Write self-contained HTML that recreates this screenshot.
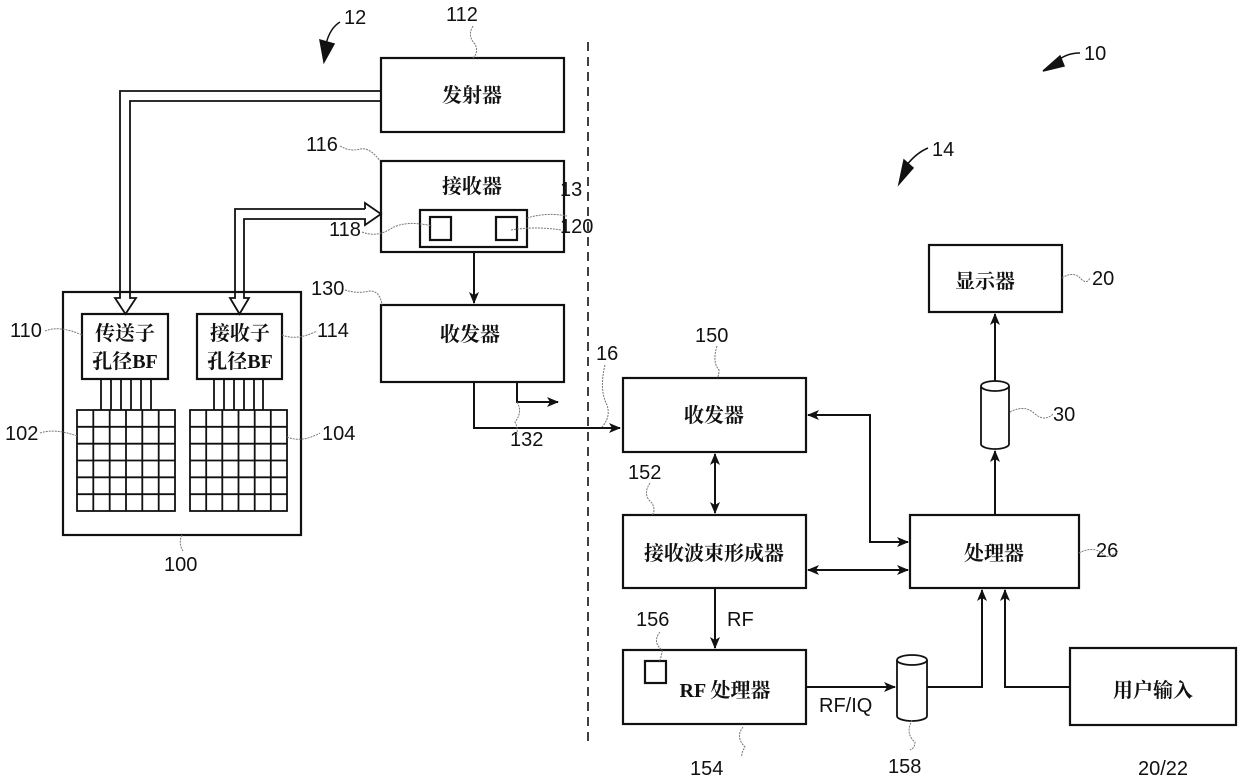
<!DOCTYPE html>
<html><head><meta charset="utf-8"><style>
html,body{margin:0;padding:0;background:#fff}
svg{display:block}
.c{font-family:"Liberation Serif","Noto Serif CJK SC",serif;font-weight:bold;font-size:20px;fill:#111}
.n{font-family:"Liberation Sans",sans-serif;font-size:20px;fill:#111}
.b{fill:#fff;stroke:#111;stroke-width:2.2}
.l{fill:none;stroke:#111;stroke-width:2}
.t{fill:none;stroke:#777;stroke-width:1;stroke-dasharray:2 1}
</style></head><body>
<svg width="1240" height="783" viewBox="0 0 1240 783" xmlns="http://www.w3.org/2000/svg">
<defs>
<marker id="a" markerWidth="12" markerHeight="12" refX="11" refY="6" orient="auto" markerUnits="userSpaceOnUse"><path d="M0,1 L12,6 L0,11 L3,6 Z" fill="#111"/></marker>
<marker id="s" markerWidth="12" markerHeight="12" refX="1" refY="6" orient="auto" markerUnits="userSpaceOnUse"><path d="M12,1 L0,6 L12,11 L9,6 Z" fill="#111"/></marker>
</defs>
<line x1="588" y1="42" x2="588" y2="745" stroke="#111" stroke-width="1.6" stroke-dasharray="9 6"/>

<rect class="b" x="381" y="58" width="183" height="74"/>
<text class="c" x="472" y="102" text-anchor="middle">发射器</text>
<rect class="b" x="381" y="161" width="183" height="91"/>
<text class="c" x="472" y="193" text-anchor="middle">接收器</text>
<rect class="b" x="420" y="210" width="107" height="37"/>
<rect class="b" x="430" y="217" width="21" height="23"/>
<rect class="b" x="496" y="217" width="21" height="23"/>
<rect class="b" x="381" y="305" width="183" height="77"/>
<text class="c" x="470" y="341" text-anchor="middle">收发器</text>
<line class="l" x1="474" y1="252" x2="474" y2="303" marker-end="url(#a)"/>
<polyline class="l" points="474,382 474,428 620,428" marker-end="url(#a)"/>
<polyline class="l" points="517,382 517,402 558,402" marker-end="url(#a)"/>

<rect class="b" x="63" y="292" width="238" height="243"/>
<rect class="b" x="82" y="314" width="86" height="65"/>
<text class="c" x="125" y="340" text-anchor="middle">传送子</text>
<text class="c" x="125" y="368" text-anchor="middle">孔径BF</text>
<rect class="b" x="197" y="314" width="85" height="65"/>
<text class="c" x="240" y="340" text-anchor="middle">接收子</text>
<text class="c" x="240" y="368" text-anchor="middle">孔径BF</text>
<g stroke="#111" stroke-width="1.8">
<line x1="101" y1="379" x2="101" y2="410"/><line x1="111" y1="379" x2="111" y2="410"/><line x1="121" y1="379" x2="121" y2="410"/><line x1="131" y1="379" x2="131" y2="410"/><line x1="141" y1="379" x2="141" y2="410"/><line x1="151" y1="379" x2="151" y2="410"/>
<line x1="214" y1="379" x2="214" y2="410"/><line x1="224" y1="379" x2="224" y2="410"/><line x1="234" y1="379" x2="234" y2="410"/><line x1="244" y1="379" x2="244" y2="410"/><line x1="254" y1="379" x2="254" y2="410"/><line x1="263" y1="379" x2="263" y2="410"/>
</g>
<g stroke="#111" stroke-width="1.8" fill="#fff">
<rect x="77" y="410" width="98" height="101"/>
<path d="M93.3,410V511M109.7,410V511M126,410V511M142.3,410V511M158.7,410V511M77,426.8H175M77,443.7H175M77,460.5H175M77,477.3H175M77,494.2H175"/>
<rect x="190" y="410" width="97" height="101"/>
<path d="M206.2,410V511M222.3,410V511M238.5,410V511M254.7,410V511M270.8,410V511M190,426.8H287M190,443.7H287M190,460.5H287M190,477.3H287M190,494.2H287"/>
</g>
<g fill="none" stroke="#111" stroke-width="1.8">
<polyline points="381,91 120,91 120,298 115,298 125.5,314 136,298 130,298 130,101 381,101"/>
<polyline points="365,209 235,209 235,298 230,298 239.5,314 249,298 244,298 244,219 365,219 365,225 381,214 365,203 365,209"/>
</g>

<rect class="b" x="623" y="378" width="183" height="74"/>
<text class="c" x="714" y="422" text-anchor="middle">收发器</text>
<rect class="b" x="623" y="515" width="183" height="73"/>
<text class="c" x="714" y="560" text-anchor="middle">接收波束形成器</text>
<rect class="b" x="623" y="650" width="183" height="74"/>
<rect class="b" x="645" y="661" width="21" height="22"/>
<text class="c" x="725" y="697" text-anchor="middle">RF 处理器</text>
<rect class="b" x="910" y="515" width="169" height="73"/>
<text class="c" x="994" y="560" text-anchor="middle">处理器</text>
<rect class="b" x="929" y="245" width="133" height="67"/>
<text class="c" x="985" y="288" text-anchor="middle">显示器</text>
<rect class="b" x="1070" y="648" width="166" height="77"/>
<text class="c" x="1153" y="697" text-anchor="middle">用户输入</text>

<line class="l" x1="715" y1="454" x2="715" y2="513" marker-start="url(#s)" marker-end="url(#a)"/>
<line class="l" x1="715" y1="588" x2="715" y2="648" marker-end="url(#a)"/>
<text class="n" x="727" y="626">RF</text>
<polyline class="l" points="808,415 870,415 870,542 908,542" marker-start="url(#s)" marker-end="url(#a)"/>
<line class="l" x1="808" y1="570" x2="908" y2="570" marker-start="url(#s)" marker-end="url(#a)"/>
<line class="l" x1="806" y1="687" x2="895" y2="687" marker-end="url(#a)"/>
<text class="n" x="819" y="712">RF/IQ</text>
<polyline class="l" points="927,687 982,687 982,590" marker-end="url(#a)"/>
<polyline class="l" points="1070,687 1005,687 1005,590" marker-end="url(#a)"/>
<line class="l" x1="995" y1="515" x2="995" y2="451" marker-end="url(#a)"/>
<line class="l" x1="995" y1="381" x2="995" y2="314" marker-end="url(#a)"/>
<g fill="#fff" stroke="#111" stroke-width="1.8">
<path d="M897,660 V716 A15,5 0 0 0 927,716 V660"/><ellipse cx="912" cy="660" rx="15" ry="5"/>
<path d="M981,386 V444 A14,5 0 0 0 1009,444 V386"/><ellipse cx="995" cy="386" rx="14" ry="5"/>
</g>

<g class="n">
<text x="446" y="21">112</text><text x="344" y="24">12</text>
<text x="1084" y="60">10</text><text x="932" y="156">14</text>
<text x="306" y="151">116</text><text x="560" y="196">13</text>
<text x="329" y="236">118</text><text x="560" y="233">120</text>
<text x="311" y="295">130</text><text x="10" y="337">110</text>
<text x="317" y="337">114</text><text x="5" y="440">102</text>
<text x="322" y="440">104</text><text x="164" y="571">100</text>
<text x="596" y="360">16</text><text x="510" y="446">132</text>
<text x="695" y="342">150</text><text x="628" y="479">152</text>
<text x="636" y="626">156</text><text x="690" y="775">154</text>
<text x="888" y="773">158</text><text x="1138" y="775">20/22</text>
<text x="1096" y="557">26</text><text x="1053" y="421">30</text>
<text x="1092" y="285">20</text>
</g>
<g class="t">
<path d="M473,26 q-6,10 2,18 q4,8 -2,14"/>
<path d="M340,146 q10,6 20,3 q10,-2 20,12"/>
<path d="M362,232 q15,6 30,-4 q15,-8 40,-2"/>
<path d="M527,218 q20,-6 40,-2 M511,230 q25,-4 50,0"/>
<path d="M345,290 q12,4 25,1 q10,0 12,14"/>
<path d="M45,331 q15,-6 37,4"/><path d="M282,335 q15,6 35,-4"/>
<path d="M40,433 q15,-5 37,3"/><path d="M287,437 q15,6 33,-4"/>
<path d="M182,535 q-4,8 1,16"/>
<path d="M605,365 q-6,25 2,40 q4,12 -5,22"/>
<path d="M517,402 q6,10 -2,20 q4,8 1,14"/>
<path d="M717,346 q-5,16 2,24 q0,6 -2,8"/>
<path d="M650,483 q-8,12 2,20 q4,8 0,12"/>
<path d="M660,632 q-8,10 2,18 q0,6 -3,12"/>
<path d="M743,727 q-8,10 2,20 q-4,6 -3,10"/>
<path d="M912,720 q-7,14 3,22 q0,6 -5,8"/>
<path d="M1010,412 q15,-8 25,2 q10,8 18,0"/>
<path d="M1079,553 q15,-8 25,2 q5,4 14,-4"/>
<path d="M1062,278 q12,-8 20,2 q5,4 8,-2"/>
</g>
<g stroke="#111" stroke-width="1.5" fill="#111">
<path d="M340,22 q-10,6 -14,22" fill="none"/><path d="M320,40 L324,62 L334,44 Z"/>
<path d="M1080,53 q-15,0 -25,10" fill="none"/><path d="M1060,56 L1043,71 L1064,66 Z"/>
<path d="M928,148 q-12,5 -22,18" fill="none"/><path d="M904,160 L899,184 L913,168 Z"/>
</g>
</svg>
</body></html>
